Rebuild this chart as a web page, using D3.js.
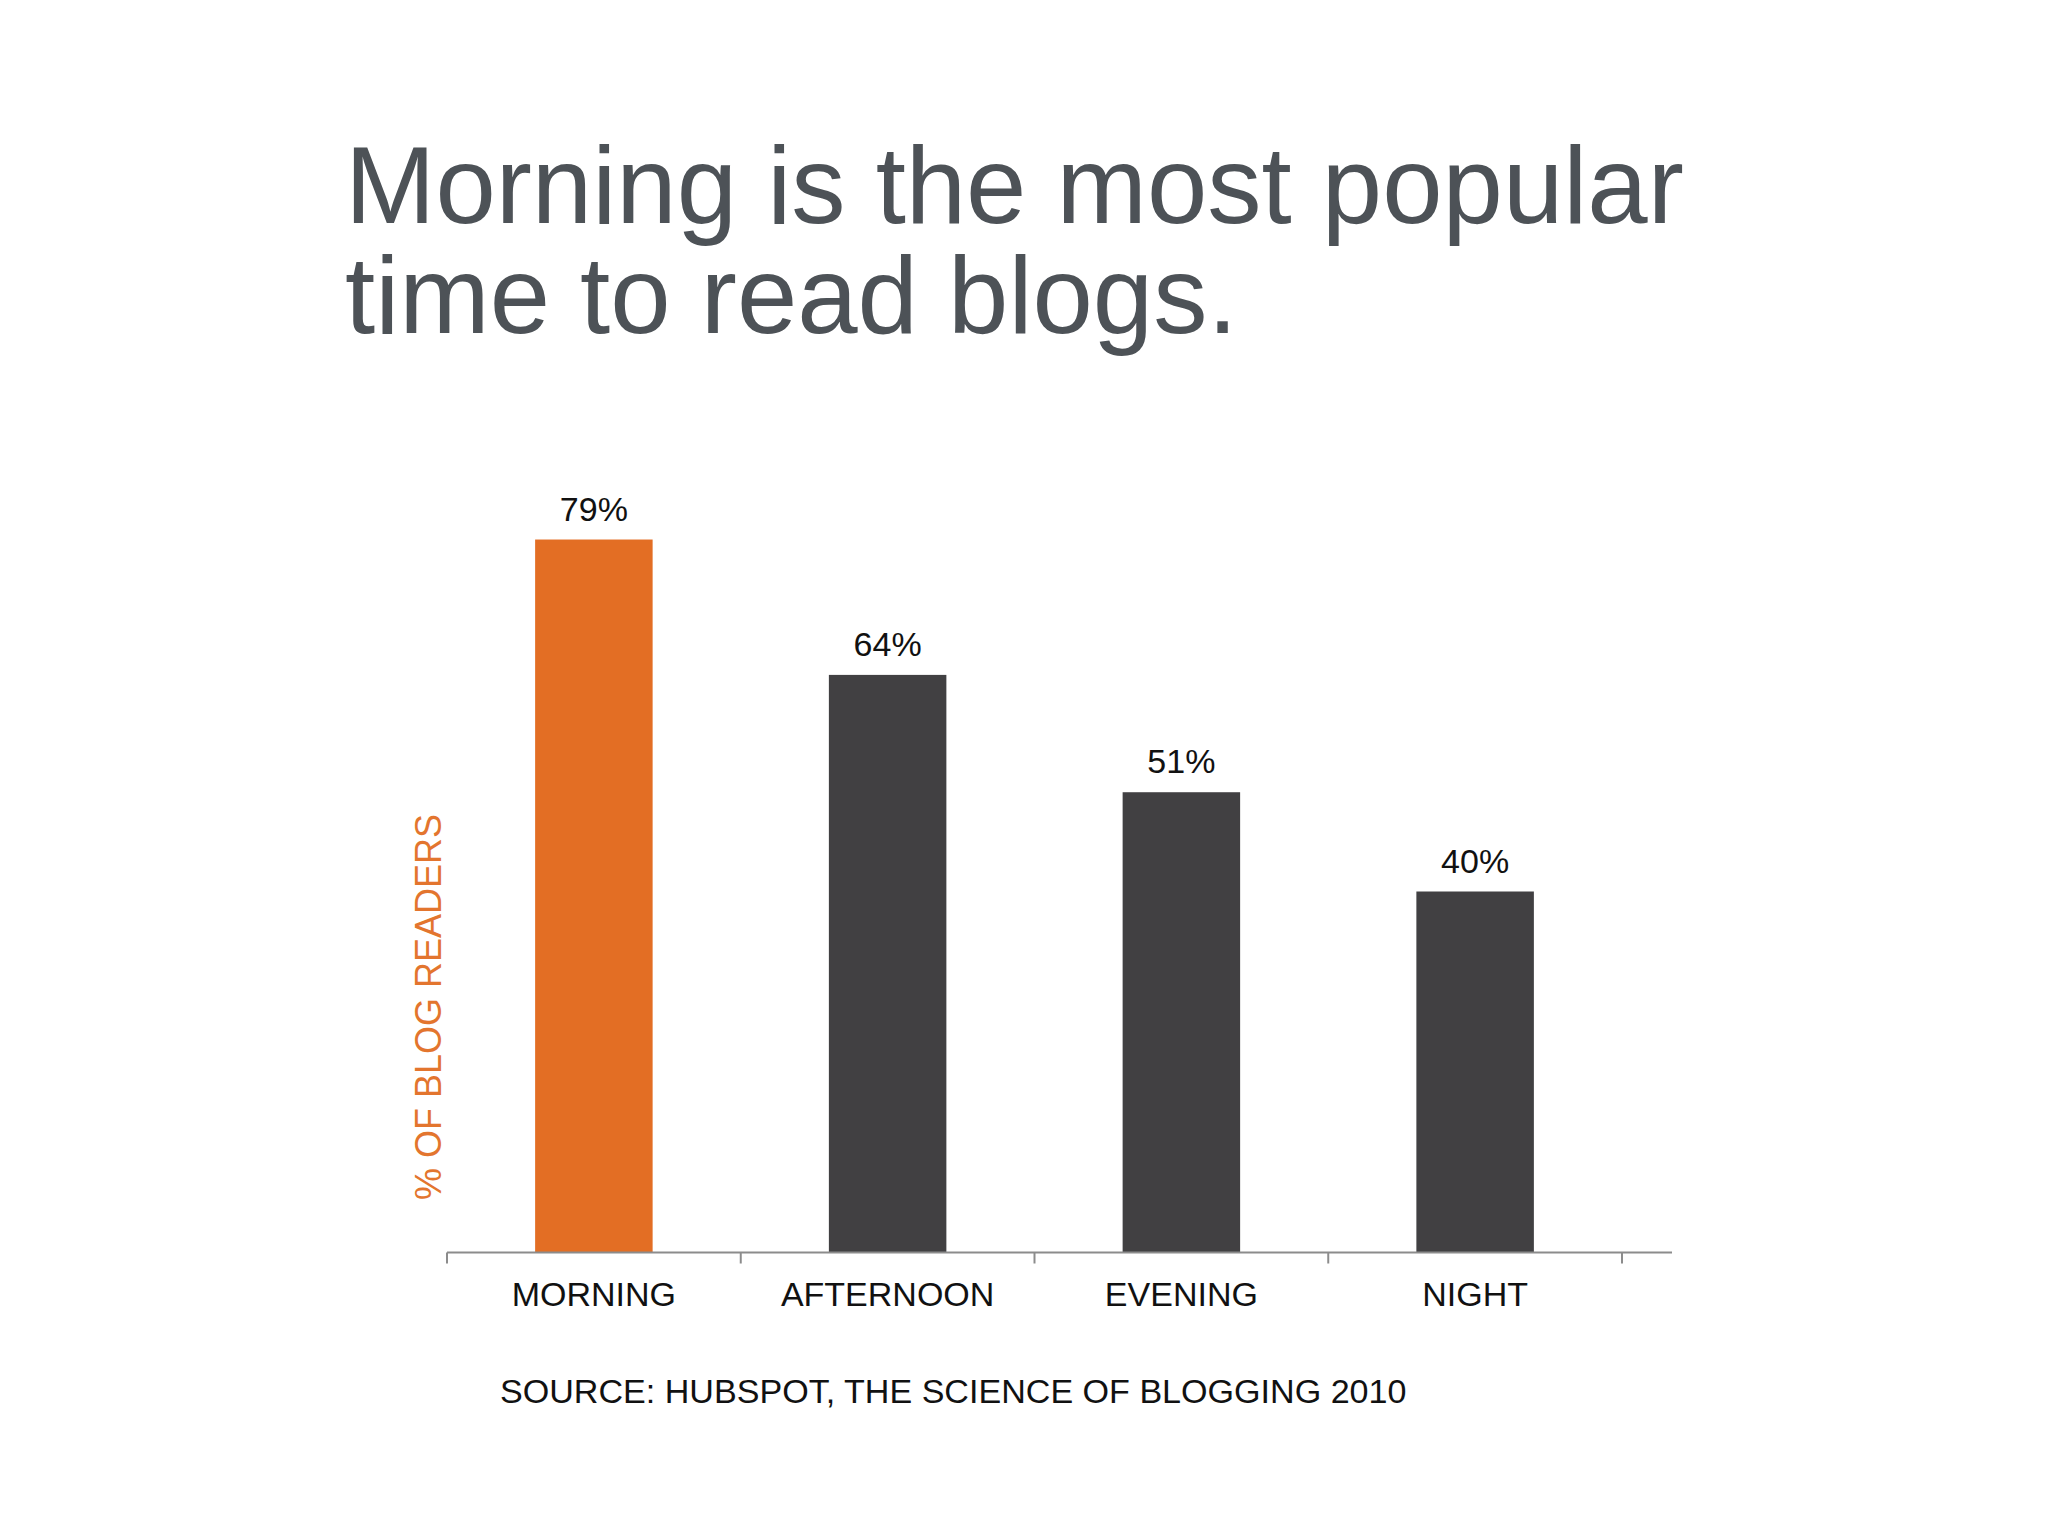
<!DOCTYPE html>
<html>
<head>
<meta charset="utf-8">
<script src="https://cdn.jsdelivr.net/npm/d3@7"></script>
<style>
  html, body { margin: 0; padding: 0; background: #fff; }
  svg { display: block; }
</style>
</head>
<body>
<svg width="2048" height="1536"></svg>
<script>
const categories = ["MORNING", "AFTERNOON", "EVENING", "NIGHT"];
const values = [79, 64, 51, 40];
const valueLabels = ["79%", "64%", "51%", "40%"];
const titleLines = ["Morning is the most popular", "time to read blogs."];
const yLabel = "% OF BLOG READERS";
const source = "SOURCE: HUBSPOT, THE SCIENCE OF BLOGGING 2010";

const width = 2048;
const height = 1536;
const margin = { top: 350, bottom: 1536 - 1252.5, left: 447, right: 2048 - 1622 };
const font = "'Liberation Sans', Arial, sans-serif";

const svg = d3.select("svg");

svg.append("rect")
  .attr("width", width)
  .attr("height", height)
  .attr("fill", "#ffffff");

// title
svg.append("g")
  .selectAll("text")
  .data(titleLines)
  .enter()
  .append("text")
  .attr("x", 345)
  .attr("y", (d, i) => 223 + i * 110)
  .attr("font-family", font)
  .attr("font-size", 108.5)
  .attr("fill", "#4d5257")
  .text(d => d);

// scales
const xScale = d3.scaleBand()
  .domain(categories)
  .range([margin.left, width - margin.right])
  .paddingInner(0.6)
  .paddingOuter(0.3);

const yScale = d3.scaleLinear()
  .domain([0, 100])
  .range([height - margin.bottom, margin.top]);

// bars
svg.append("g")
  .selectAll("rect")
  .data(values)
  .enter()
  .append("rect")
  .attr("x", (d, i) => xScale(categories[i]))
  .attr("y", d => yScale(d))
  .attr("width", xScale.bandwidth())
  .attr("height", d => yScale(0) - yScale(d))
  .attr("fill", (d, i) => i === 0 ? "#e36e24" : "#414042");

// value labels
svg.append("g")
  .selectAll("text")
  .data(values)
  .enter()
  .append("text")
  .attr("x", (d, i) => xScale(categories[i]) + xScale.bandwidth() / 2)
  .attr("y", d => yScale(d) - 19)
  .attr("text-anchor", "middle")
  .attr("font-family", font)
  .attr("font-size", 34)
  .attr("fill", "#111")
  .text((d, i) => valueLabels[i]);

// x axis: labels from d3 axis, ticks at band edges
const xAxis = d3.axisBottom(xScale).tickSize(0).tickPadding(0);
const axisG = svg.append("g")
  .attr("transform", `translate(0, ${yScale(0)})`)
  .call(xAxis);
axisG.select(".domain").remove();
axisG.selectAll("text")
  .attr("y", 53)
  .attr("dy", null)
  .attr("font-family", font)
  .attr("font-size", 34)
  .attr("fill", "#111");

const [r0, r1] = xScale.range();
const step = xScale.step();
axisG.append("line")
  .attr("x1", r0)
  .attr("x2", r1 + 50)
  .attr("y1", 0)
  .attr("y2", 0)
  .attr("stroke", "#8c8c8c")
  .attr("stroke-width", 2);

axisG.selectAll(".edge")
  .data(d3.range(categories.length + 1))
  .enter()
  .append("line")
  .attr("class", "edge")
  .attr("x1", i => r0 + i * step)
  .attr("x2", i => r0 + i * step)
  .attr("y1", 0)
  .attr("y2", 11)
  .attr("stroke", "#8c8c8c")
  .attr("stroke-width", 2);

// y label
svg.append("text")
  .attr("transform", `translate(441, 1007) rotate(-90)`)
  .attr("text-anchor", "middle")
  .attr("font-family", font)
  .attr("font-size", 36)
  .attr("fill", "#e3752e")
  .text(yLabel);

// source
svg.append("text")
  .attr("x", 500)
  .attr("y", 1403)
  .attr("font-family", font)
  .attr("font-size", 34.1)
  .attr("fill", "#111")
  .text(source);
</script>
</body>
</html>
